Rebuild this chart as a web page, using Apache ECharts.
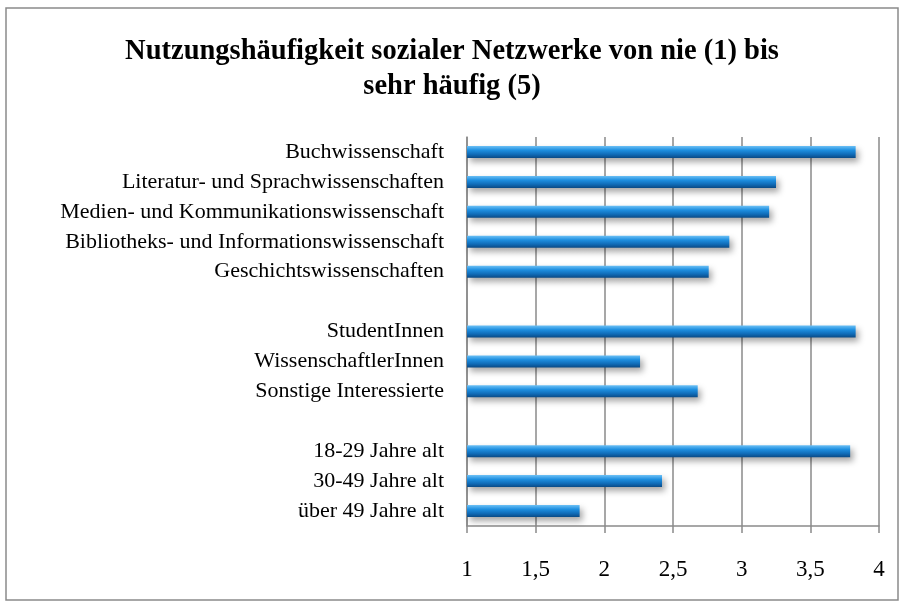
<!DOCTYPE html>
<html>
<head>
<meta charset="utf-8">
<script src="https://cdn.jsdelivr.net/npm/echarts@6/dist/echarts.min.js"></script>
<style>
  html, body { margin: 0; padding: 0; background: #fff; }
  #main { width: 904px; height: 607px; }
</style>
</head>
<body>
<div id="main"></div>
<script>
// Kategorien (leere Einträge = Lücken zwischen den Gruppen)
var categories = [
    'Buchwissenschaft',
    'Literatur- und Sprachwissenschaften',
    'Medien- und Kommunikationswissenschaft',
    'Bibliotheks- und Informationswissenschaft',
    'Geschichtswissenschaften',
    '',
    'StudentInnen',
    'WissenschaftlerInnen',
    'Sonstige Interessierte',
    ' ',
    '18-29 Jahre alt',
    '30-49 Jahre alt',
    'über 49 Jahre alt'
];

// Mittelwerte, von oben nach unten
var values = [3.83, 3.25, 3.20, 2.91, 2.76, null, 3.83, 2.26, 2.68, null, 3.79, 2.42, 1.82];

var xTicks = [1, 1.5, 2, 2.5, 3, 3.5, 4];

var serif = '"Liberation Serif", "DejaVu Serif", serif';

var chart = echarts.init(document.getElementById('main'));

var option = {
    backgroundColor: '#fff',
    animation: false,
    title: {
        text: 'Nutzungshäufigkeit sozialer Netzwerke von nie (1) bis\nsehr häufig (5)',
        left: 'center',
        top: 29,
        textStyle: {
            fontFamily: serif,
            fontWeight: 'bold',
            fontSize: 28.5,
            lineHeight: 35,
            color: '#000'
        }
    },
    // Rahmen um das ganze Diagramm
    graphic: [{
        type: 'rect',
        shape: { x: 6, y: 8, width: 892, height: 592 },
        style: { fill: 'none', stroke: '#8a8a8a', lineWidth: 1.5 },
        silent: true
    }],
    grid: {
        left: 467,
        right: 25,
        top: 137,
        bottom: 81
    },
    xAxis: {
        type: 'value',
        min: xTicks[0],
        max: xTicks[xTicks.length - 1],
        interval: 0.5,
        axisLine: { show: true, lineStyle: { color: '#8a8a8a', width: 1.5 } },
        axisTick: { show: true, length: 7, lineStyle: { color: '#8a8a8a', width: 1.5 } },
        splitLine: { show: true, lineStyle: { color: '#8a8a8a', width: 1.5 } },
        axisLabel: {
            margin: 32,
            fontFamily: serif,
            fontSize: 23,
            color: '#000',
            formatter: function(v) {
                return String(v).replace('.', ',')
            }
        }
    },
    yAxis: {
        type: 'category',
        inverse: true,
        data: categories,
        axisLine: { show: true, lineStyle: { color: '#8a8a8a', width: 1.5 } },
        axisTick: { show: false },
        axisLabel: {
            margin: 23,
            fontFamily: serif,
            fontSize: 22,
            color: '#000'
        }
    },
    series: [{
        type: 'bar',
        data: values,
        barWidth: 12,
        itemStyle: {
            color: new echarts.graphic.LinearGradient(0, 0, 0, 1, [
                { offset: 0, color: '#6cc0f5' },
                { offset: 0.35, color: '#1e8fe0' },
                { offset: 0.7, color: '#106cb8' },
                { offset: 1, color: '#0a4a85' }
            ]),
            shadowColor: 'rgba(0,0,0,0.35)',
            shadowBlur: 6,
            shadowOffsetX: 3,
            shadowOffsetY: 4
        }
    }]
};

chart.setOption(option);
</script>
</body>
</html>
